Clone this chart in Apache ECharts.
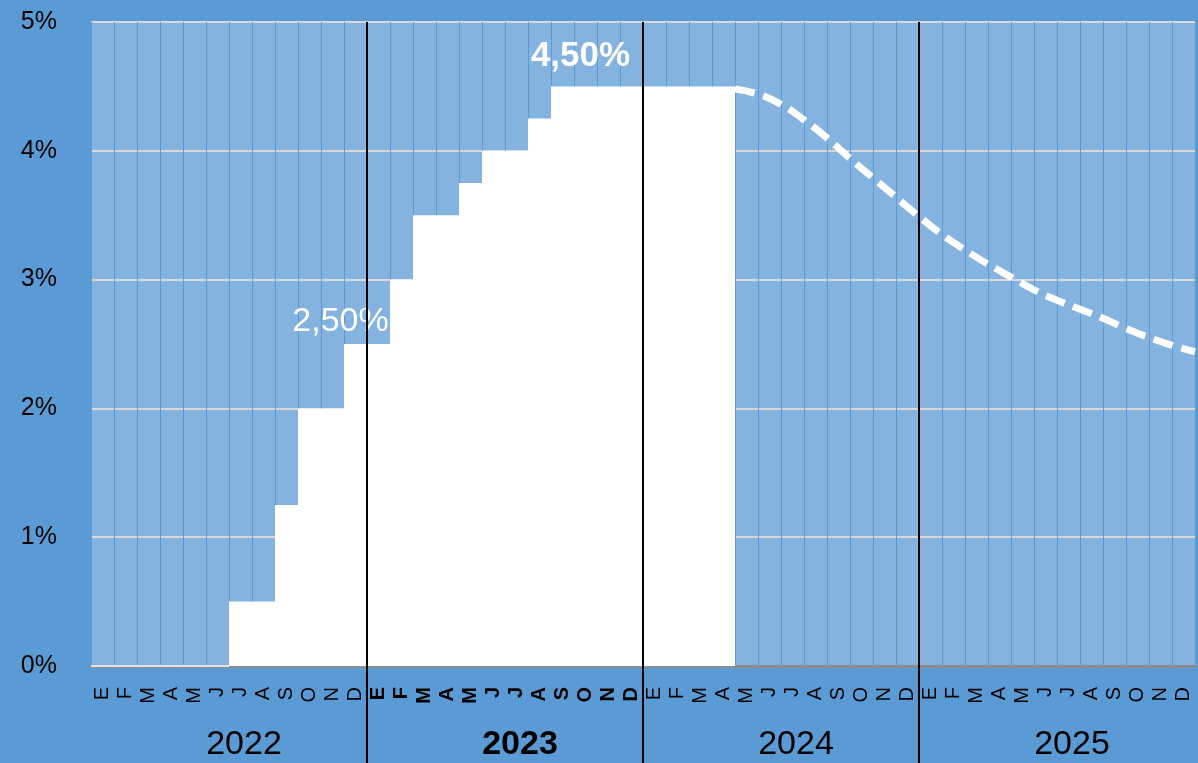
<!DOCTYPE html>
<html><head><meta charset="utf-8">
<script src="https://cdn.jsdelivr.net/npm/echarts@6/dist/echarts.min.js"></script>
<style>html,body{margin:0;padding:0;background:#5B9BD5;overflow:hidden}#c{width:1198px;height:763px}</style>
</head><body><div id="c"></div>
<script>
// ---- data ----
const monthLabels = [
  'E','F','M','A','M','J','J','A','S','O','N','D',
  'E','F','M','A','M','J','J','A','S','O','N','D',
  'E','F','M','A','M','J','J','A','S','O','N','D',
  'E','F','M','A','M','J','J','A','S','O','N','D'
];
const yearLabels = ['2022','2023','2024','2025'];
const boldYear = '2023';
// official rate, Jan 2022 .. Apr 2024 (%)
const rateValues = [
  0, 0, 0, 0, 0, 0, 0.5, 0.5, 1.25, 2, 2, 2.5,
  2.5, 3, 3.5, 3.5, 3.75, 4, 4, 4.25, 4.5, 4.5, 4.5, 4.5,
  4.5, 4.5, 4.5, 4.5
];
// expected path, month boundaries from end of Apr 2024 to end of Dec 2025 (%)
const forecastStartMonth = 28;
const forecastValues = [
  4.48, 4.44, 4.36, 4.24, 4.10, 3.94, 3.79, 3.64, 3.49, 3.35, 3.23,
  3.12, 3.02, 2.92, 2.84, 2.77, 2.70, 2.62, 2.55, 2.49, 2.44
];
const yTicks = [0, 1, 2, 3, 4, 5];
const calloutLabels = { 11: '2,50%', 21: '4,50%' };

// ---- build ----
const font = 'Liberation Sans, Arial, sans-serif';
const narrowFont = 'Liberation Sans Narrow, Arial Narrow, Liberation Sans, sans-serif';
const barData = rateValues.map((v, i) => {
  const item = { value: v };
  if (calloutLabels[i]) {
    const big = i === 21;
    item.label = {
      show: true, position: 'top', formatter: calloutLabels[i],
      color: '#fff', fontSize: big ? 35 : 34, fontWeight: big ? 'bold' : 'normal',
      fontFamily: font,
      distance: big ? 13 : 5, offset: big ? [-5, 0] : [-15, 0]
    };
  }
  return item;
});
while (barData.length < monthLabels.length) barData.push(null);
const lineData = forecastValues.map((v, i) => [forecastStartMonth + i, v]);
const yearBoundary = {
  show: true, showMinLine: false, showMaxLine: false,
  lineStyle: { color: '#000', width: 2 }
};

const chart = echarts.init(document.getElementById('c'));
chart.setOption({
  backgroundColor: '#5B9BD5',
  animation: false,
  grid: [
    { left: 91, right: 3, top: 22, bottom: 97, show: true, backgroundColor: '#84B3DF', borderWidth: 0 },
    { left: 91, right: 3, top: 666, bottom: 0, show: false }
  ],
  xAxis: [
    { // months
      type: 'category', gridIndex: 0, data: monthLabels, position: 'bottom',
      boundaryGap: true,
      axisLine: { show: true, lineStyle: { color: '#8C8C8C', width: 3 } },
      axisTick: { show: false },
      splitLine: { show: true, interval: 0, lineStyle: { color: '#5A9AD6', width: 1 } },
      axisLabel: {
        interval: 0, rotate: 90, margin: 21, color: '#000', fontSize: 20, fontFamily: narrowFont,
        formatter: (v, i) => (i >= 12 && i < 24 ? '{b|' + v + '}' : v),
        rich: { b: { fontWeight: 'bold', fontSize: 20, fontFamily: narrowFont, color: '#000' } }
      }
    },
    { // years
      type: 'category', gridIndex: 0, data: yearLabels, position: 'bottom',
      axisLine: { show: false }, axisTick: { show: false }, splitLine: { show: false },
      axisLabel: {
        interval: 0, margin: 62, color: '#000', fontSize: 34, fontFamily: font,
        padding: [0, 0, 0, 30],
        formatter: v => (v === boldYear ? '{b|' + v + '}' : v),
        rich: { b: { fontWeight: 'bold', fontSize: 34, fontFamily: font, color: '#000' } }
      }
    },
    { // continuous month scale for forecast + year boundaries
      type: 'value', gridIndex: 0, min: 0, max: 48, interval: 12, position: 'top', z: 5,
      axisLine: { show: false }, axisTick: { show: false }, axisLabel: { show: false },
      splitLine: yearBoundary
    },
    { // year boundaries extended below plot
      type: 'value', gridIndex: 1, min: 0, max: 48, interval: 12, z: 5,
      axisLine: { show: false }, axisTick: { show: false }, axisLabel: { show: false },
      splitLine: yearBoundary
    }
  ],
  yAxis: [
    {
      type: 'value', gridIndex: 0, min: yTicks[0], max: yTicks[yTicks.length - 1], interval: 1,
      axisLine: { show: false }, axisTick: { show: false },
      splitLine: { show: true, lineStyle: { color: '#D9D9D9', width: 2 } },
      axisLabel: {
        formatter: '{value}%', color: '#000', fontSize: 25, fontFamily: font,
        margin: 34, padding: [0, 0, 10, 0]
      }
    },
    { type: 'value', gridIndex: 1, min: 0, max: 1, show: false }
  ],
  series: [
    {
      type: 'bar', xAxisIndex: 0, yAxisIndex: 0, data: barData,
      barWidth: '100%', barCategoryGap: '0%',
      itemStyle: { color: '#fff', borderColor: '#fff', borderWidth: 1.5 },
      z: 2
    },
    {
      type: 'line', xAxisIndex: 2, yAxisIndex: 0, data: lineData,
      smooth: true, showSymbol: false, symbol: 'none',
      lineStyle: { color: '#fff', width: 7, type: [20, 9], cap: 'butt' },
      z: 3
    }
  ]
});
</script>
</body></html>
